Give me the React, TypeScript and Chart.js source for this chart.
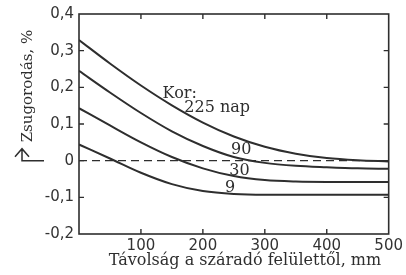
import React, { useEffect, useRef } from "react";
import { Chart, registerables } from "chart.js";

Chart.register(...registerables);

const xValues = [0, 50, 100, 150, 200, 250, 300, 350, 400, 450, 500];
const age225 = [0.329, 0.265, 0.205, 0.151, 0.104, 0.066, 0.038, 0.019, 0.007, 0.001, -0.002];
const age90 = [0.245, 0.186, 0.13, 0.08, 0.04, 0.01, -0.006, -0.014, -0.018, -0.021, -0.022];
const age30 = [0.143, 0.096, 0.05, 0.01, -0.021, -0.042, -0.053, -0.057, -0.058, -0.058, -0.058];
const age9 = [0.044, 0.006, -0.033, -0.064, -0.083, -0.091, -0.093, -0.093, -0.093, -0.093, -0.093];
const zeroLine = [0, 0, 0, 0, 0, 0, 0, 0, 0, 0, 0];

const xTickValues = [100, 200, 300, 400, 500];
const yTickValues = [-0.2, -0.1, 0, 0.1, 0.2, 0.3, 0.4];

const yTitle = "Zsugorodás, %";
const xTitle = "Távolság a száradó felülettől, mm";

// annotation labels in data units
const noteTexts = ["Kor:", "225 nap", "90", "30", "9"];
const noteX = [135, 170, 262, 259, 244];
const noteY = [0.183, 0.145, 0.03, -0.028, -0.074];
const noteAlign: CanvasTextAlign[] = ["left", "left", "center", "center", "center"];

const INK = "#2e2e2e";
const SERIF = "'DejaVu Serif', serif";
const SANS = "'DejaVu Sans', sans-serif";

const fmt = (v: number) => {
  const r = Math.round(v * 10) / 10;
  if (r === 0) return "0";
  return r.toFixed(1).replace(".", ",");
};

const deco = {
  id: "deco",
  afterDraw(chart: any) {
    const { ctx, chartArea: a, scales } = chart;
    const xs = scales.x;
    const ys = scales.y;
    ctx.save();
    ctx.strokeStyle = INK;
    ctx.lineWidth = 1.6;
    ctx.strokeRect(a.left, a.top, a.right - a.left, a.bottom - a.top);
    // inward tick marks
    ctx.lineWidth = 1.4;
    const tl = 5;
    ctx.beginPath();
    xTickValues.forEach((v) => {
      if (v >= 500) return;
      const px = xs.getPixelForValue(v);
      ctx.moveTo(px, a.bottom);
      ctx.lineTo(px, a.bottom - tl);
      ctx.moveTo(px, a.top);
      ctx.lineTo(px, a.top + tl);
    });
    yTickValues.forEach((v) => {
      if (v <= -0.2 || v >= 0.4) return;
      const py = ys.getPixelForValue(v);
      ctx.moveTo(a.left, py);
      ctx.lineTo(a.left + tl, py);
      ctx.moveTo(a.right, py);
      ctx.lineTo(a.right - tl, py);
    });
    ctx.stroke();

    // annotations
    ctx.fillStyle = INK;
    ctx.font = `16px ${SERIF}`;
    ctx.textBaseline = "middle";
    noteTexts.forEach((t, i) => {
      ctx.textAlign = noteAlign[i];
      ctx.fillText(t, xs.getPixelForValue(noteX[i]), ys.getPixelForValue(noteY[i]));
    });

    // x title
    ctx.font = `16px ${SERIF}`;
    ctx.textAlign = "center";
    ctx.textBaseline = "middle";
    ctx.fillText(xTitle, 245, 261);

    // y title (rotated)
    ctx.save();
    ctx.translate(28, 86);
    ctx.rotate(-Math.PI / 2);
    ctx.font = `15px ${SERIF}`;
    ctx.fillText(yTitle, 0, 0);
    ctx.restore();

    // bent arrow
    const zy = ys.getPixelForValue(0);
    ctx.lineWidth = 1.5;
    ctx.beginPath();
    ctx.moveTo(44, zy);
    ctx.lineTo(22, zy);
    ctx.lineTo(22, zy - 11);
    ctx.moveTo(15, zy - 4);
    ctx.lineTo(22, zy - 12);
    ctx.lineTo(29, zy - 4);
    ctx.stroke();
    ctx.restore();
  },
};

export default function App() {
  const ref = useRef<HTMLCanvasElement>(null);
  useEffect(() => {
    if (!ref.current) return;
    const line = (label: string, data: number[]) => ({
      label,
      data: xValues.map((x, i) => ({ x, y: data[i] })),
      borderColor: INK,
      borderWidth: 2,
      pointRadius: 0,
      fill: false,
      cubicInterpolationMode: "monotone" as const,
    });
    const chart = new Chart(ref.current, {
      type: "line",
      data: {
        datasets: [
          line("225 nap", age225),
          line("90", age90),
          line("30", age30),
          line("9", age9),
          {
            label: "0",
            data: xValues.map((x, i) => ({ x, y: zeroLine[i] })),
            borderColor: INK,
            borderWidth: 1.3,
            borderDash: [8, 5],
            pointRadius: 0,
            fill: false,
          },
        ],
      },
      options: {
        responsive: false,
        animation: false,
        layout: { padding: { left: 0, right: 16, top: 12, bottom: 0 } },
        plugins: { legend: { display: false }, tooltip: { enabled: false } },
        scales: {
          x: {
            type: "linear",
            min: 0,
            max: 500,
            afterBuildTicks: (s: any) => {
              s.ticks = xTickValues.map((v) => ({ value: v }));
            },
            afterFit: (s: any) => {
              s.height = 41;
            },
            grid: { display: false, drawTicks: false },
            border: { display: false },
            ticks: {
              color: "#333",
              font: { family: SANS, size: 15 },
              padding: 3,
              maxRotation: 0,
              callback: (v: any) => String(v),
            },
          },
          y: {
            type: "linear",
            min: -0.2,
            max: 0.4,
            afterBuildTicks: (s: any) => {
              s.ticks = yTickValues.map((v) => ({ value: v }));
            },
            afterFit: (s: any) => {
              s.width = 79;
            },
            grid: { display: false, drawTicks: false },
            border: { display: false },
            ticks: {
              color: "#333",
              font: { family: SANS, size: 15 },
              padding: 5,
              callback: (v: any) => fmt(Number(v)),
            },
          },
        },
      },
      plugins: [deco],
    });
    return () => chart.destroy();
  }, []);
  return (
    <div style={{ position: "absolute", left: 0, top: 0, width: 406, height: 275, background: "#fff" }}>
      <canvas ref={ref} width={406} height={275} style={{ display: "block" }} />
    </div>
  );
}
